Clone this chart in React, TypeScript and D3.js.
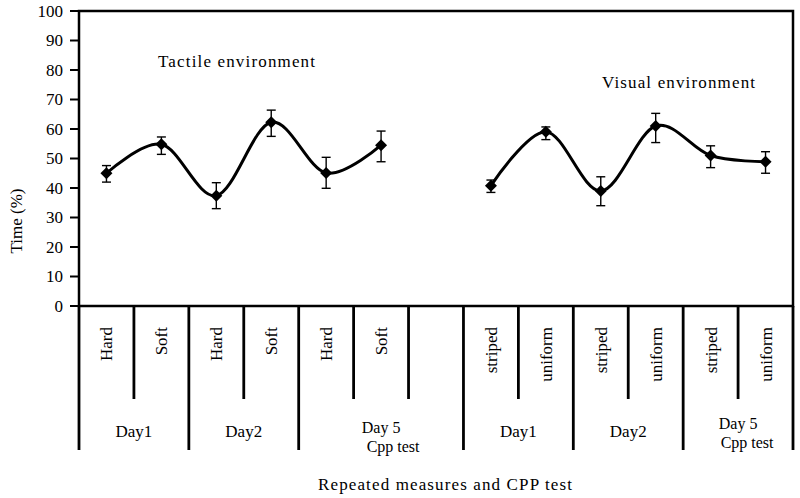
import React from "react";
import * as d3 from "d3";

const categories = ["Hard", "Soft", "Hard", "Soft", "Hard", "Soft", "", "striped", "uniform", "striped", "uniform", "striped", "uniform"];
const groupLabels = ["Day1", "Day2", "Day 5|Cpp test", "Day1", "Day2", "Day 5|Cpp test"];
const groupStarts = [0, 2, 4, 7, 9, 11];
const groupSizes = [2, 2, 3, 2, 2, 2];

const tactileIdx = [0, 1, 2, 3, 4, 5];
const tactileMean = [45, 54.8, 37.4, 62.3, 45.1, 54.5];
const tactileLow = [42, 51.4, 33, 57.5, 39.9, 48.9];
const tactileHigh = [47.6, 57.3, 41.8, 66.4, 50.4, 59.3];

const visualIdx = [7, 8, 9, 10, 11, 12];
const visualMean = [40.8, 59.1, 39, 61, 51, 48.9];
const visualLow = [38.5, 56.4, 34, 55.4, 46.9, 45];
const visualHigh = [42.7, 60.7, 43.8, 65.3, 54.3, 52.3];

const yTicks = [0, 10, 20, 30, 40, 50, 60, 70, 80, 90, 100];

const W = 800, H = 498;
const FONT = "'Liberation Serif', 'Times New Roman', serif";

export default function App() {
  const x = d3.scaleBand<number>().domain(categories.map((_, i) => i)).range([79, 793]).padding(0);
  const y = d3.scaleLinear().domain([0, 100]).range([306, 11]);
  const bw = x.bandwidth();
  const cx = (i: number) => (x(i) as number) + bw / 2;
  const edge = (i: number) => 79 + i * bw;

  const line = d3.line<[number, number]>().x(d => d[0]).y(d => d[1]).curve(d3.curveCardinal.tension(0));
  const sym = d3.symbol().type(d3.symbolSquare).size(72)();

  const groupBounds = new Set<number>();
  groupStarts.forEach((s, g) => { groupBounds.add(s); groupBounds.add(s + groupSizes[g]); });

  const series = [
    { idx: tactileIdx, mean: tactileMean, low: tactileLow, high: tactileHigh },
    { idx: visualIdx, mean: visualMean, low: visualLow, high: visualHigh },
  ];

  return (
    <svg width={W} height={H} style={{ position: "absolute", left: 0, top: 0, background: "#fff" }} fontFamily={FONT}>
      <rect x={0} y={0} width={W} height={H} fill="#fff" />
      {/* plot frame */}
      <rect x={79} y={y(100)} width={793 - 79} height={y(0) - y(100)} fill="none" stroke="#000" strokeWidth={2.5} />
      {/* y ticks */}
      {yTicks.map(t => (
        <g key={t}>
          <line x1={70} x2={79} y1={y(t)} y2={y(t)} stroke="#000" strokeWidth={2} />
          <text x={63} y={y(t)} dy="0.35em" textAnchor="end" fontSize={17}>{t}</text>
        </g>
      ))}
      {/* category separators */}
      {d3.range(categories.length + 1).map(i => (
        <line key={i} x1={edge(i)} x2={edge(i)} y1={y(0)} y2={groupBounds.has(i) ? 450 : 399} stroke="#000" strokeWidth={2.8} />
      ))}
      {/* category labels */}
      {categories.map((c, i) => c ? (
        <text key={i} transform={`translate(${cx(i) + 6},327) rotate(-90)`} textAnchor="end" fontSize={17}>{c}</text>
      ) : null)}
      {/* group labels */}
      {groupLabels.map((g, k) => {
        const mid = edge(groupStarts[k]) + groupSizes[k] * bw / 2;
        const parts = g.split("|");
        if (parts.length === 1) {
          return <text key={k} x={mid} y={437} textAnchor="middle" fontSize={17}>{g}</text>;
        }
        const first = k < 3;
        return (
          <g key={k}>
            <text x={mid} y={first ? 433 : 429} textAnchor="middle" fontSize={16}>{parts[0]}</text>
            <text x={mid + (first ? 12 : 9)} y={first ? 452 : 448} textAnchor="middle" fontSize={16}>{parts[1]}</text>
          </g>
        );
      })}
      {/* series */}
      {series.map((s, si) => {
        const pts: [number, number][] = s.idx.map((ci, j) => [cx(ci), y(s.mean[j])]);
        return (
          <g key={si}>
            <path d={line(pts) || ""} fill="none" stroke="#000" strokeWidth={3} />
            {s.idx.map((ci, j) => (
              <g key={j}>
                <line x1={cx(ci)} x2={cx(ci)} y1={y(s.low[j])} y2={y(s.high[j])} stroke="#000" strokeWidth={1.4} />
                <line x1={cx(ci) - 4.5} x2={cx(ci) + 4.5} y1={y(s.low[j])} y2={y(s.low[j])} stroke="#000" strokeWidth={1.4} />
                <line x1={cx(ci) - 4.5} x2={cx(ci) + 4.5} y1={y(s.high[j])} y2={y(s.high[j])} stroke="#000" strokeWidth={1.4} />
                <path d={sym} transform={`translate(${cx(ci)},${y(s.mean[j])}) rotate(45)`} fill="#000" />
              </g>
            ))}
          </g>
        );
      })}
      {/* annotations */}
      <text x={158} y={67} fontSize={17} textLength={157} lengthAdjust="spacing">Tactile environment</text>
      <text x={602} y={88} fontSize={17} textLength={153} lengthAdjust="spacing">Visual environment</text>
      {/* axis titles */}
      <text transform="translate(22,221) rotate(-90)" textAnchor="middle" fontSize={17}>Time (%)</text>
      <text x={318} y={490} fontSize={17} textLength={254} lengthAdjust="spacing">Repeated measures and CPP test</text>
    </svg>
  );
}
